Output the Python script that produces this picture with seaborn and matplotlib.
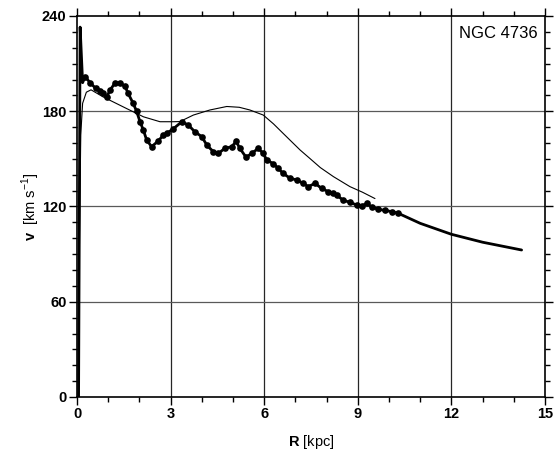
import matplotlib
matplotlib.use("Agg")
import matplotlib.pyplot as plt
from matplotlib.ticker import MultipleLocator
import pandas as pd
import seaborn as sns

# observed rotation curve (dots)
r_obs = [0.26, 0.42, 0.6, 0.74, 0.84, 0.95, 1.06, 1.22, 1.38, 1.54, 1.64, 1.8,
         1.91, 2.02, 2.13, 2.23, 2.39, 2.59, 2.77, 2.87, 3.09, 3.36, 3.57, 3.78,
         4.0, 4.16, 4.37, 4.53, 4.74, 4.96, 5.1, 5.22, 5.42, 5.6, 5.81, 5.97,
         6.08, 6.29, 6.45, 6.61, 6.83, 7.04, 7.25, 7.41, 7.63, 7.84, 8.06, 8.22,
         8.32, 8.53, 8.75, 8.96, 9.12, 9.3, 9.44, 9.66, 9.87, 10.09, 10.3]
v_obs = [201.8, 198, 194.4, 193, 191.2, 188.8, 193.4, 197.8, 197.8, 195.7, 191.2, 185,
         180, 173.4, 168, 162, 157.7, 161, 165, 166, 169, 173.4, 171.3, 167,
         164, 158.7, 154.5, 153.5, 156.6, 157.7, 161, 156.6, 151, 153.5, 156.6, 153.5,
         149.3, 147, 144, 140.8, 137.8, 136.7, 134.6, 132.5, 134.6, 131.4, 129.3, 128.2,
         127.2, 124, 122.6, 121, 120.3, 122, 119.6, 118.3, 117.5, 116.8, 115.7]

# inner spike and outer extension of the thick curve (no dots)
r_inner = [0.05, 0.1, 0.18, 0.26]
v_inner = [0, 233, 198, 201.8]
r_outer = [10.3, 11.0, 12.0, 13.0, 14.25]
v_outer = [115.7, 109.4, 102.5, 97.5, 92.6]

# thin model curve
r_model = [0.05, 0.08, 0.12, 0.18, 0.3, 0.45, 0.84, 1.2, 1.59, 2.13, 2.66, 3.09,
           3.3, 3.73, 4.26, 4.8, 5.2, 5.54, 5.97, 6.3, 6.61, 7.15, 7.45, 7.8, 8.22,
           8.75, 9.15, 9.55]
v_model = [0, 100, 165, 185, 192, 193.5, 189, 185.5, 181.7, 176.5, 173.4, 173.4,
           173.5, 177.6, 180.8, 183, 182.5, 180.8, 177.6, 172, 166, 155.6, 150.5, 144.5, 138.8,
           132.5, 129, 125]

sns.set_style("ticks")
plt.rcParams["font.family"] = ["Liberation Sans", "DejaVu Sans"]
plt.rcParams["mathtext.fontset"] = "custom"
plt.rcParams["mathtext.rm"] = "Liberation Sans"
plt.rcParams["mathtext.bf"] = "Liberation Sans:bold"
for key in ["text.color", "axes.labelcolor", "xtick.color", "ytick.color"]:
    plt.rcParams[key] = "black"

fig = plt.figure(figsize=(5.54, 4.59), dpi=100)
ax = fig.add_axes([77 / 554, 1 - 397 / 459, 468 / 554, 381 / 459])

# grid first so curves sit on top
for x in [3, 6, 9, 12]:
    ax.axvline(x, color="0.15", lw=0.9, zorder=1)
for y in [60, 120, 180]:
    ax.axhline(y, color="0.35", lw=0.9, zorder=1)

df_model = pd.DataFrame({"R": r_model, "v": v_model})
df_obs = pd.DataFrame({"R": r_obs, "v": v_obs})
df_inner = pd.DataFrame({"R": r_inner, "v": v_inner})
df_outer = pd.DataFrame({"R": r_outer, "v": v_outer})

sns.lineplot(data=df_model, x="R", y="v", sort=False, color="black", lw=0.8, ax=ax, zorder=3)
sns.lineplot(data=df_inner, x="R", y="v", sort=False, color="black", lw=2.0, ax=ax, zorder=4)
sns.lineplot(data=df_outer, x="R", y="v", sort=False, color="black", lw=2.0, ax=ax, zorder=4)
sns.lineplot(data=df_obs, x="R", y="v", sort=False, color="black", lw=2.0,
             marker="o", markersize=4.8, markeredgewidth=0, ax=ax, zorder=5)

ax.set_xlim(0, 15)
ax.set_ylim(0, 240)
ax.xaxis.set_major_locator(MultipleLocator(3))
ax.xaxis.set_minor_locator(MultipleLocator(1))
ax.yaxis.set_major_locator(MultipleLocator(60))
ax.yaxis.set_minor_locator(MultipleLocator(10))
ax.tick_params(which="both", direction="out", top=True, right=True, width=1.0, color="black")
ax.tick_params(which="major", length=5.5, labelsize=10.5, pad=2)
ax.tick_params(which="minor", length=3.5)
for lab in ax.get_xticklabels() + ax.get_yticklabels():
    lab.set_fontweight("bold")
for sp in ax.spines.values():
    sp.set_visible(True)
    sp.set_linewidth(1.2)
    sp.set_color("black")

ax.set_xlabel(r"$\mathbf{R}$ [kpc]", fontsize=10.5, labelpad=8)
ax.set_ylabel(r"$\mathbf{v}$  [km s$^{-1}$]", fontsize=10.5, labelpad=0)
ax.text(0.985, 0.975, "NGC 4736", transform=ax.transAxes, ha="right", va="top", fontsize=12)

fig.savefig("out.png", dpi=100)
